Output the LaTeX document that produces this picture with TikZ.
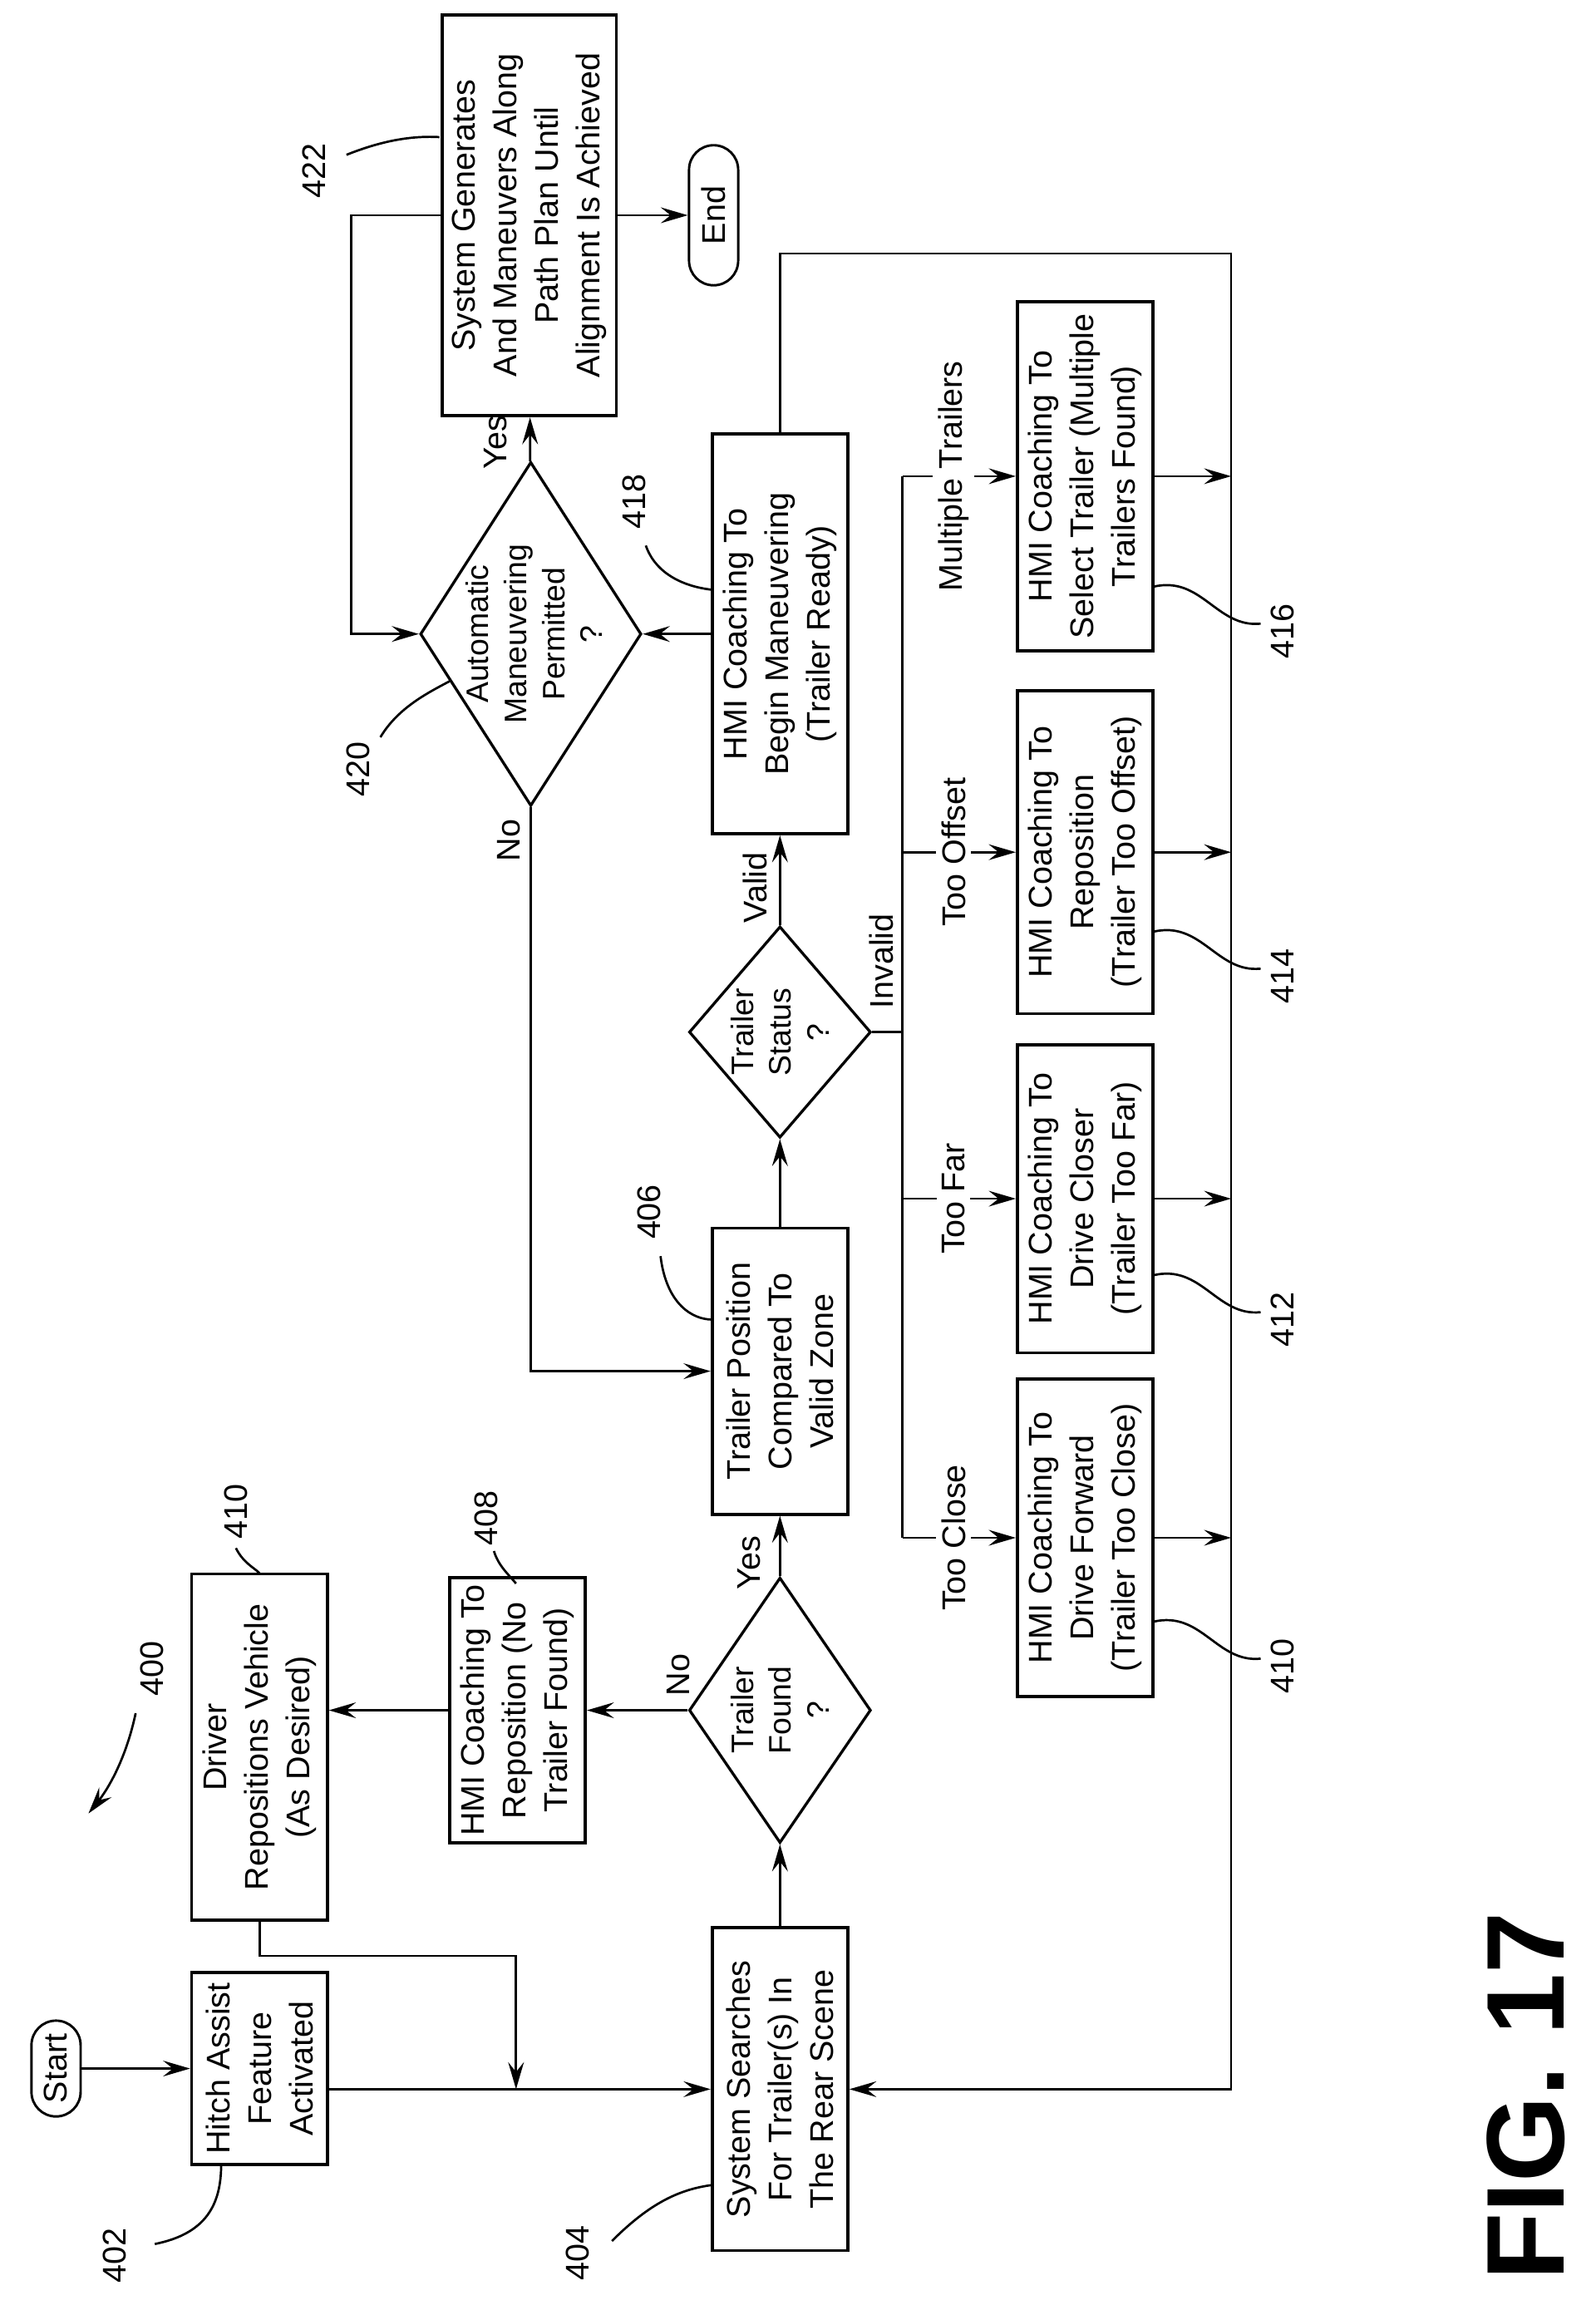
\documentclass[tikz,border=0pt]{standalone}
\usepackage{fontspec}
\setmainfont{Liberation Sans}
\usetikzlibrary{arrows.meta,shapes.geometric,positioning}

\tikzset{
  txt/.style={rotate=90, font=\fontsize{19}{24}\selectfont, align=center},
  dtxt/.style={txt, font=\fontsize{18}{22}\selectfont},
  box/.style={txt, draw, line width=1.8pt, inner sep=4pt, minimum height=2.76cm},
  term/.style={txt, draw, line width=1.4pt, rounded corners=0.5cm, minimum height=1cm},
  dec/.style={rotate=90, draw, diamond, line width=1.6pt, inner sep=0pt},
  line/.style={line width=1.3pt},
  arrow/.style={line, -{Stealth[length=0.55cm, width=0.32cm, inset=0.2cm]}},
  lbl/.style={txt, fill=white, inner sep=3pt},
  num/.style={txt},
}

\begin{document}
\begin{tikzpicture}[x=0.03cm, y=-0.03cm]
  \useasboundingbox (0,0) rectangle (1082,1560);

  % top row
  \node[term, minimum width=1.95cm] (start) at (38,1403) {Start};
  \node[box, minimum width=3.9cm] (hitch) at (176,1403) {Hitch Assist\\Feature\\Activated};
  \node[box, minimum width=7.05cm] (driver) at (176,1185) {Driver\\Repositions Vehicle\\(As Desired)};
  \node[box, minimum width=5.13cm] (nofound) at (351,1160) {HMI Coaching To\\Reposition (No\\Trailer Found)};
  \node[box, minimum width=8.16cm, minimum height=3.54cm] (path) at (359,146) {System Generates\\And Maneuvers Along\\Path Plan Until\\Alignment Is Achieved};
  \node[term, minimum width=2.85cm] (end) at (484,146) {End};
  \node[dec, minimum width=7cm, minimum height=4.5cm] (auto) at (360,430) {};
  \node[dtxt] at ([xshift=2pt]auto) {Automatic\\Maneuvering\\Permitted\\?};

  % middle row
  \node[box, minimum width=6.57cm] (search) at (529,1417) {System Searches\\For Trailer(s) In\\The Rear Scene};
  \node[dec, minimum width=5.4cm, minimum height=3.7cm] (found) at (529,1160) {};
  \node[dtxt] at (found) {Trailer\\Found\\?};
  \node[box, minimum width=5.82cm] (zone) at (529,930) {Trailer Position\\Compared To\\Valid Zone};
  \node[dec, minimum width=4.3cm, minimum height=3.7cm] (status) at (529,700) {};
  \node[dtxt] at (status) {Trailer\\Status\\?};
  \node[box, minimum width=8.13cm] (ready) at (529,430) {HMI Coaching To\\Begin Maneuvering\\(Trailer Ready)};

  % bottom row
  \node[box, minimum width=6.45cm] (close) at (736,1043) {HMI Coaching To\\Drive Forward\\(Trailer Too Close)};
  \node[box, minimum width=6.27cm] (far) at (736,813) {HMI Coaching To\\Drive Closer\\(Trailer Too Far)};
  \node[box, minimum width=6.57cm] (offset) at (736,578) {HMI Coaching To\\Reposition\\(Trailer Too Offset)};
  \node[box, minimum width=7.1cm] (multi) at (736,323) {HMI Coaching To\\Select Trailer (Multiple\\Trailers Found)};

  \coordinate (merge) at (350,1417);
  \coordinate (inv) at (612,700);
  \coordinate (rtop) at (835,172);
  \coordinate (rbot) at (835,1417);

  % connectors
  \draw[arrow] (start) -- (hitch);
  \draw[arrow] (hitch.south |- search) -- (search);
  \draw[arrow] (driver.west) -- ++(0,23) -| (merge);
  \draw[arrow] (search) -- (found);
  \draw[arrow] (found) -- (zone);
  \draw[arrow] (found) -- (nofound);
  \draw[arrow] (nofound) -- (nofound -| driver.south);
  \draw[arrow] (zone) -- (status);
  \draw[arrow] (status) -- (ready);
  \draw[arrow] (ready) -- (auto);
  \draw[arrow] (auto) -- (path);
  \draw[arrow] (path) -- (end);
  \draw[arrow] (auto.west) |- (zone);
  \draw[arrow] (path.north) -- (238,146) |- (auto);
  \draw[line] (status.south) -- (inv);
  \draw[line] (inv |- multi) -- (inv |- close);
  \foreach \b/\t in {close/Too Close, far/Too Far, offset/Too Offset, multi/Multiple Trailers}{
    \draw[arrow] (inv |- \b) -- node[lbl, pos=0.45] {\t} (\b);
    \draw[arrow] (\b) -- (rtop |- \b);
  }
  \draw[arrow] (ready.east) |- (rtop) -- (rbot) -- (search);

  % branch labels
  \node[txt] at (508,1060) {Yes};
  \node[txt] at (460,1136) {No};
  \node[txt] at (512,602) {Valid};
  \node[txt] at (598,652) {Invalid};
  \node[txt] at (336,300) {Yes};
  \node[txt] at (345,570) {No};

  % reference numerals
  \node[num] (n400) at (103,1132) {400};
  \draw[arrow] (92,1162) .. controls (85,1195) and (72,1215) .. (60,1230);
  \node[num] at (78,1530) {402};
  \draw[line] (105,1522) .. controls (140,1515) and (150,1495) .. (150,1468);
  \node[num] at (392,1528) {404};
  \draw[line] (415,1520) .. controls (440,1495) and (460,1485) .. (483,1482);
  \node[num] at (440,822) {406};
  \draw[line] (448,852) .. controls (452,885) and (470,895) .. (483,895);
  \node[num] at (330,1030) {408};
  \draw[line] (335,1052) .. controls (338,1062) and (345,1068) .. (350,1074);
  \node[num] at (160,1025) {410};
  \draw[line] (160,1050) .. controls (165,1060) and (172,1063) .. (176,1067);
  \node[num] at (430,340) {418};
  \draw[line] (438,370) .. controls (445,390) and (465,398) .. (483,400);
  \node[num] at (243,522) {420};
  \draw[line] (258,500) .. controls (270,480) and (290,470) .. (305,462);
  \node[num] at (213,116) {422};
  \draw[line] (235,105) .. controls (260,95) and (280,92) .. (298,93);
  \foreach \b/\n/\y in {close/410/1100, far/412/865, offset/414/632, multi/416/398}{
    \node[num] at (870,\y+30) {\n};
    \draw[line] (782,\y) .. controls (815,\y-8) and (825,\y+28) .. (855,\y+25);
  }

  \node[rotate=90, font=\bfseries\fontsize{64}{70}\selectfont] at (1035,1422) {FIG. 17};
\end{tikzpicture}
\end{document}
